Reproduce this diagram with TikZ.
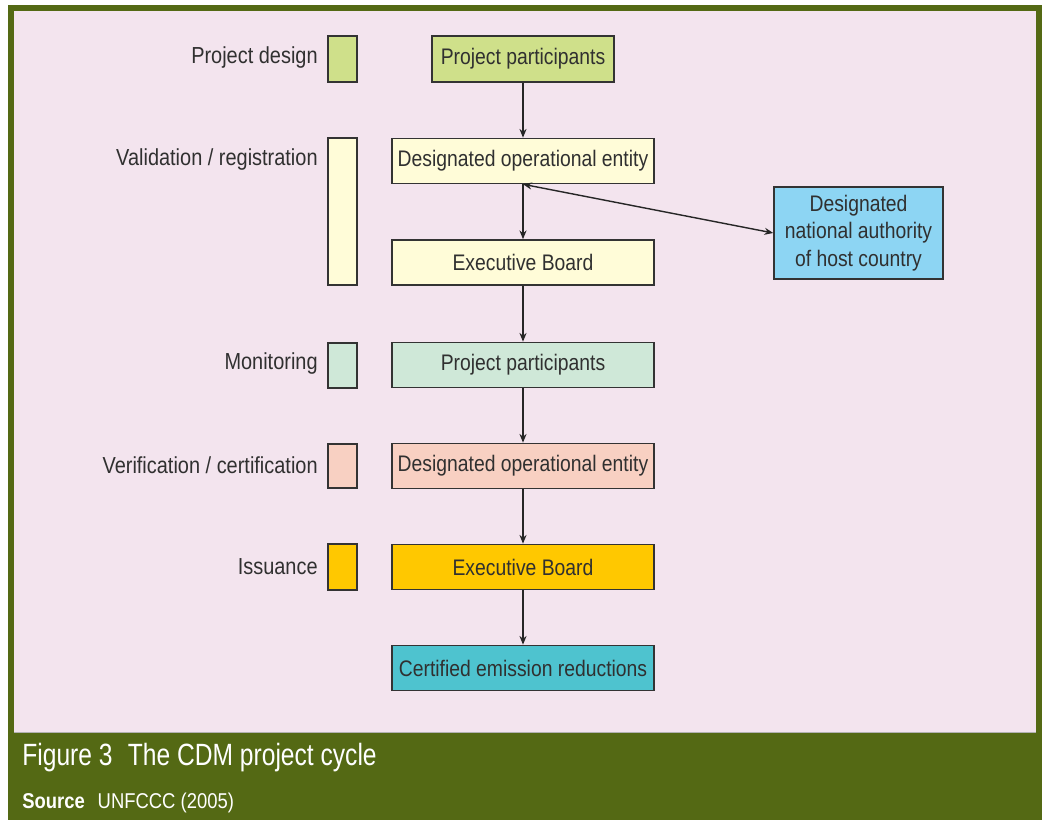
\documentclass[tikz,border=0pt]{standalone}
\usepackage{fontspec}
\setmainfont{Liberation Sans}[FakeStretch=0.86]
\newfontfamily\capfont{Liberation Sans}[FakeStretch=0.80]
\usetikzlibrary{arrows.meta}
\definecolor{frame}{HTML}{546914}
\definecolor{bgpink}{HTML}{F3E4EE}
\definecolor{cgreen}{HTML}{CFE08A}
\definecolor{cyellow}{HTML}{FFFCD8}
\definecolor{cblue}{HTML}{8DD5F3}
\definecolor{cmint}{HTML}{CFE8D8}
\definecolor{cpeach}{HTML}{F8D0C2}
\definecolor{cgold}{HTML}{FFC800}
\definecolor{cteal}{HTML}{4EC3CF}
\definecolor{txt}{HTML}{303030}
\tikzset{
  box/.style={draw=black!80, line width=0.9pt, minimum height=0.9cm, minimum width=5.24cm, inner sep=0pt, font=\fontsize{12.8}{14}\selectfont, text=txt},
  tab/.style={draw=black!80, line width=0.9pt, minimum width=0.58cm, inner sep=0pt},
  lab/.style={anchor=east, font=\fontsize{13.2}{14}\selectfont, text=txt, inner sep=0pt},
  arr/.style={-{Stealth[length=5pt,width=4pt]}, line width=0.8pt, draw=black!85},
}
\begin{document}
\begin{tikzpicture}[x=0.02cm,y=-0.02cm]
\fill[white] (0,0) rectangle (1042,820);
\useasboundingbox (0,0) rectangle (1042,820);
\fill[frame] (8,5) rectangle (1042,820);
\fill[bgpink] (14,11) rectangle (1036,732);
\draw[black!30, line width=0.5pt] (14,732) -- (1036,732);
% left tabs
\node[tab, fill=cgreen, minimum height=0.92cm] (t1) at (342.5,59) {};
\node[tab, fill=cyellow, minimum height=2.94cm] (t2) at (342.5,211.5) {};
\node[tab, fill=cmint, minimum height=0.9cm] (t3) at (342.5,365.5) {};
\node[tab, fill=cpeach, minimum height=0.88cm] (t4) at (342.5,466) {};
\node[tab, fill=cgold, minimum height=0.92cm] (t5) at (342.5,567) {};
% labels
\node[lab] (l1) at (318,58) {Project design};
\node[lab] (l2) at (318,160) {Validation / registration};
\node[lab] (l3) at (318,364) {Monitoring};
\node[lab] (l4) at (318,465) {Verification / certification};
\node[lab] (l5) at (318,567) {Issuance};
% main boxes
\node[box, fill=cgreen, minimum width=3.64cm, minimum height=0.92cm] (pp1) at (523,59) {Project participants};
\node[box, fill=cyellow] (doe1) at (523,161) {Designated operational entity};
\node[box, fill=cyellow] (eb1) at (523,262.5) {Executive Board};
\node[box, fill=cblue, minimum width=3.38cm, minimum height=1.84cm, align=center, font=\fontsize{12.8}{15.5}\selectfont] (dna) at (858.5,233) {Designated\\national authority\\of host country};
\node[box, fill=cmint] (pp2) at (523,365) {Project participants};
\node[box, fill=cpeach] (doe2) at (523,466) {Designated operational entity};
\node[box, fill=cgold] (eb2) at (523,567) {Executive Board};
\node[box, fill=cteal] (cer) at (523,668) {Certified emission reductions};
% arrows
\draw[arr] (pp1) -- (doe1);
\draw[arr] (doe1) -- (eb1);
\draw[arr] (eb1) -- (pp2);
\draw[arr] (pp2) -- (doe2);
\draw[arr] (doe2) -- (eb2);
\draw[arr] (eb2) -- (cer);
\draw[arr, {Stealth[length=5pt,width=4pt]}-{Stealth[length=5pt,width=4pt]}] (doe1.south) -- (dna.west);
% caption
\node[anchor=west, text=white, inner sep=0pt, font=\capfont\fontsize{17.5}{20}\selectfont] (cap) at (22,758) {Figure 3\hspace{0.5em}The CDM project cycle};
\node[anchor=west, text=white, inner sep=0pt, font=\fontsize{12.2}{14}\selectfont] (src) at (22,803) {\textbf{Source}\hspace{0.6em}UNFCCC (2005)};
\end{tikzpicture}
\end{document}
